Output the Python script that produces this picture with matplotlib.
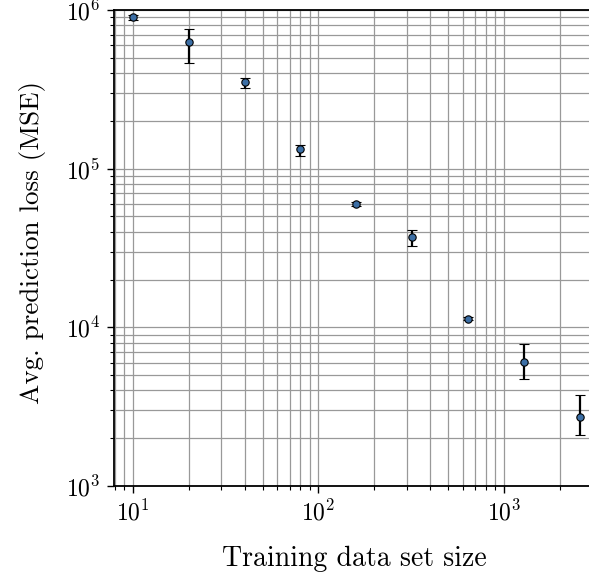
import matplotlib
matplotlib.use("Agg")
import matplotlib.pyplot as plt
import numpy as np

plt.rcParams["font.family"] = "serif"
plt.rcParams["font.serif"] = ["cmr10"]
plt.rcParams["mathtext.fontset"] = "cm"
plt.rcParams["axes.formatter.use_mathtext"] = True
plt.rcParams["axes.unicode_minus"] = False

# Training set sizes and mean prediction loss with error bounds
train_size = [10, 20, 40, 80, 160, 320, 640, 1280, 2560]
mean_loss = [9.0e5, 6.26e5, 3.53e5, 1.33e5, 6.0e4, 3.71e4, 1.135e4, 6.08e3, 2.74e3]
loss_upper = [9.3e5, 7.6e5, 3.74e5, 1.41e5, 6.15e4, 4.11e4, 1.16e4, 7.89e3, 3.75e3]
loss_lower = [8.7e5, 4.65e5, 3.21e5, 1.21e5, 5.85e4, 3.26e4, 1.11e4, 4.71e3, 2.09e3]

y = np.array(mean_loss)
yerr = [y - np.array(loss_lower), np.array(loss_upper) - y]

fig = plt.figure(figsize=(5.89, 5.80), dpi=100)
ax = fig.add_axes([114 / 589, 94 / 580, 486 / 589, 476 / 580])

ax.errorbar(train_size, mean_loss, yerr=yerr, fmt="o", color="black",
            markerfacecolor="#3b6ea5", markeredgecolor="black",
            markeredgewidth=0.8, markersize=5.3, elinewidth=1.6,
            capsize=3.6, capthick=1.2, zorder=3)

ax.set_xscale("log")
ax.set_yscale("log")
ax.set_xlim(7.9, 3300)
ax.set_ylim(1e3, 1e6)

ax.grid(True, which="both", color="0.6", linewidth=0.9)
ax.set_axisbelow(True)

for side in ("left", "bottom", "top"):
    ax.spines[side].set_linewidth(1.3)
ax.spines["right"].set_visible(False)

ax.tick_params(which="major", length=5, width=1.0, labelsize=17, pad=5)
ax.tick_params(which="minor", length=3, width=0.8)

ax.set_xlabel("Training data set size", fontsize=20)
ax.set_ylabel("Avg. prediction loss (MSE)", fontsize=19.5)
ax.xaxis.set_label_coords((354 - 114) / 486, (486 - 546) / 476)
ax.yaxis.set_label_coords((46 - 114) / 486, (486 - 242) / 476)

fig.savefig("out.png", dpi=100)
